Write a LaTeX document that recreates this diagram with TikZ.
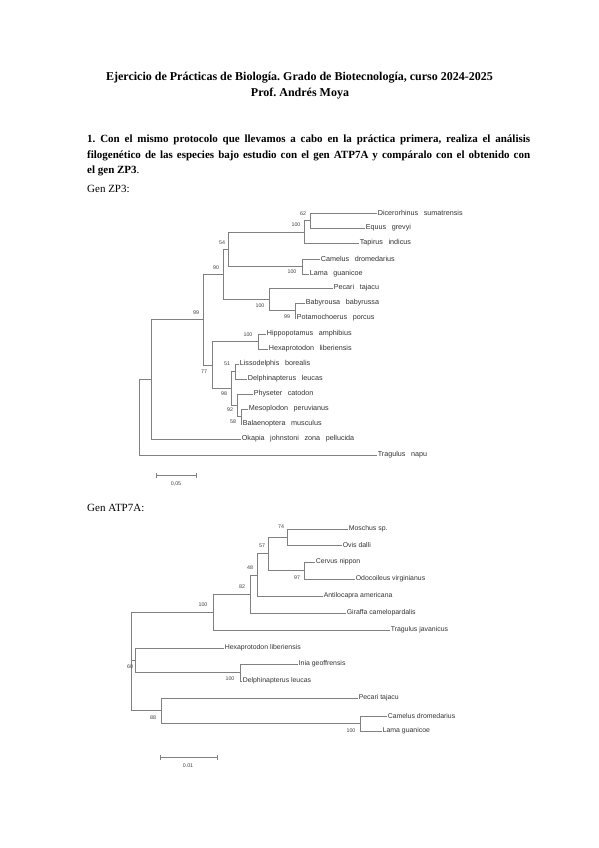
\documentclass[tikz,border=0pt]{standalone}
\usepackage{fontspec}
\setmainfont{Liberation Serif}
\newfontfamily\treefont{Liberation Sans}
\begin{document}
\frenchspacing
\begin{tikzpicture}[x=1pt,y=-1pt,
  br/.style={draw=black!50, line width=0.6pt},
  leafw/.style={anchor=west, inner sep=0.6pt, font={\treefont\fontsize{7.2}{8}\selectfont\spaceskip=5.6pt\relax}, text=black!80},
  leaf/.style={anchor=west, inner sep=0.6pt, font=\treefont\fontsize{6.9}{8}\selectfont, text=black!80},
  bs/.style={inner sep=0pt, font=\treefont\fontsize{5.3}{6}\selectfont, text=black!75},
  body/.style={anchor=west, inner sep=0pt, font=\fontsize{11}{13}\selectfont}]
\fill[white] (0,0) rectangle (599,848);
\useasboundingbox (0,0) rectangle (599,848);

% ---------- header ----------
\node[inner sep=0pt, font=\fontsize{12}{14}\selectfont\bfseries] (t1) at (299.5,78) {Ejercicio de Prácticas de Biología. Grado de Biotecnología, curso 2024-2025};
\node[inner sep=0pt, font=\fontsize{12}{14}\selectfont\bfseries] (t2) at (300,94) {Prof. Andrés Moya};
\node[body] (p1) at (87,140) {\makebox[443pt][s]{\bfseries 1. Con el mismo protocolo que llevamos a cabo en la práctica primera, realiza el análisis}};
\node[body] (p2) at (87,156) {\makebox[443pt][s]{\bfseries filogenético de las especies bajo estudio con el gen ATP7A y compáralo con el obtenido con}};
\node[body] (p3) at (87,171) {\bfseries el gen ZP3\mdseries.};
\node[body] (g1) at (87,189) {Gen ZP3:};
\node[body] (g2) at (87,508) {Gen ATP7A:};

% ---------- ZP3 tree ----------
\node[leafw] (z1) at (377,213) {Dicerorhinus sumatrensis};
\node[leafw] (z2) at (365,228) {Equus grevyi};
\node[leafw] (z3) at (359,243) {Tapirus indicus};
\node[leafw] (z4) at (320,259) {Camelus dromedarius};
\node[leafw] (z5) at (309,274) {Lama guanicoe};
\node[leafw] (z6) at (333,288) {Pecari tajacu};
\node[leafw] (z7) at (305,303) {Babyrousa babyrussa};
\node[leafw] (z8) at (296,318) {Potamochoerus porcus};
\node[leafw] (z9) at (266,334) {Hippopotamus amphibius};
\node[leafw] (z10) at (268,349) {Hexaprotodon liberiensis};
\node[leafw] (z11) at (239,364) {Lissodelphis borealis};
\node[leafw] (z12) at (247,379) {Delphinapterus leucas};
\node[leafw] (z13) at (253,394) {Physeter catodon};
\node[leafw] (z14) at (248,409) {Mesoplodon peruvianus};
\node[leafw] (z15) at (242,424) {Balaenoptera musculus};
\node[leafw] (z16) at (241,439) {Okapia johnstoni zona pellucida};
\node[leafw] (z17) at (377,455) {Tragulus napu};

\coordinate (zr) at (139,417);
\coordinate (zI) at (151,379);
\coordinate (z99) at (203,319.5);
\coordinate (z90) at (223,274);
\coordinate (z54) at (228,249);
\coordinate (z100a) at (304,232);
\coordinate (z62) at (310,220.5);
\coordinate (zcam) at (302,266.5);
\coordinate (zsuid) at (269,299);
\coordinate (zbp) at (295,310.5);
\coordinate (z77) at (212,365);
\coordinate (zhip) at (258,341.5);
\coordinate (z98) at (231,388);
\coordinate (z51) at (235,371.5);
\coordinate (z92) at (237,405);
\coordinate (z58) at (241,416.5);

\draw[br] (zr) |- (zI) (zr) |- (z17.west);
\draw[br] (zI) |- (z99) (zI) |- (z16.west);
\draw[br] (z99) |- (z90) (z99) |- (z77);
\draw[br] (z90) |- (z54) (z90) |- (zsuid);
\draw[br] (z54) |- (z100a) (z54) |- (zcam);
\draw[br] (z100a) |- (z62) (z100a) |- (z3.west);
\draw[br] (z62) |- (z1.west) (z62) |- (z2.west);
\draw[br] (zcam) |- (z4.west) (zcam) |- (z5.west);
\draw[br] (zsuid) |- (z6.west) (zsuid) |- (zbp);
\draw[br] (zbp) |- (z7.west) (zbp) |- (z8.west);
\draw[br] (z77) |- (zhip) (z77) |- (z98);
\draw[br] (zhip) |- (z9.west) (zhip) |- (z10.west);
\draw[br] (z98) |- (z51) (z98) |- (z92);
\draw[br] (z51) |- (z11.west) (z51) |- (z12.west);
\draw[br] (z92) |- (z13.west) (z92) |- (z58);
\draw[br] (z58) |- (z14.west) (z58) |- (z15.west);

\node[bs] (zb1) at (303,214) {62};
\node[bs] (zb2) at (296,225) {100};
\node[bs] (zb3) at (222,243) {54};
\node[bs] (zb4) at (292,272) {100};
\node[bs] (zb5) at (216,268) {90};
\node[bs] (zb6) at (260,306) {100};
\node[bs] (zb7) at (287,317) {99};
\node[bs] (zb8) at (196,313) {99};
\node[bs] (zb9) at (248,335) {100};
\node[bs] (zb10) at (204,372) {77};
\node[bs] (zb11) at (227,364) {51};
\node[bs] (zb12) at (224,394) {98};
\node[bs] (zb13) at (230,410) {92};
\node[bs] (zb14) at (233,422) {58};

\coordinate (sa1) at (156,475);
\coordinate (sa2) at (196,475);
\draw[br] (sa1) -- (sa2);
\draw[br] ([yshift=-2.5pt]sa1) -- ([yshift=2.5pt]sa1);
\draw[br] ([yshift=-2.5pt]sa2) -- ([yshift=2.5pt]sa2);
\node[bs] (sal) at (176,484) {0,05};

% ---------- ATP7A tree ----------
\node[leaf] (a1) at (348,529) {Moschus sp.};
\node[leaf] (a2) at (342,545) {Ovis dalli};
\node[leaf] (a3) at (315,562) {Cervus nippon};
\node[leaf] (a4) at (355,579) {Odocoileus virginianus};
\node[leaf] (a5) at (323,596) {Antilocapra americana};
\node[leaf] (a6) at (346,613) {Giraffa camelopardalis};
\node[leaf] (a7) at (390,630) {Tragulus javanicus};
\node[leaf] (a8) at (224,648) {Hexaprotodon liberiensis};
\node[leaf] (a9) at (298,664) {Inia geoffrensis};
\node[leaf] (a10) at (242,681) {Delphinapterus leucas};
\node[leaf] (a11) at (358,698) {Pecari tajacu};
\node[leaf] (a12) at (387,716) {Camelus dromedarius};
\node[leaf] (a13) at (382,731) {Lama guanicoe};

\coordinate (ar) at (131,661.5);
\coordinate (a100) at (213,612);
\coordinate (a82) at (250,594);
\coordinate (a48) at (257,575);
\coordinate (a57) at (268,553);
\coordinate (a74) at (287,537);
\coordinate (a97) at (304,570.5);
\coordinate (aA) at (135,660.5);
\coordinate (aid) at (240,672.5);
\coordinate (a88) at (161,710.5);
\coordinate (acl) at (360,723.5);

\draw[br] (ar) |- (a100) (ar) |- (aA) (ar) |- (a88);
\draw[br] (a100) |- (a82) (a100) |- (a7.west);
\draw[br] (a82) |- (a48) (a82) |- (a6.west);
\draw[br] (a48) |- (a57) (a48) |- (a5.west);
\draw[br] (a57) |- (a74) (a57) |- (a97);
\draw[br] (a74) |- (a1.west) (a74) |- (a2.west);
\draw[br] (a97) |- (a3.west) (a97) |- (a4.west);
\draw[br] (aA) |- (a8.west) (aA) |- (aid);
\draw[br] (aid) |- (a9.west) (aid) |- (a10.west);
\draw[br] (a88) |- (a11.west) (a88) |- (acl);
\draw[br] (acl) |- (a12.west) (acl) |- (a13.west);

\node[bs] (ab1) at (281,527) {74};
\node[bs] (ab2) at (262,546) {57};
\node[bs] (ab3) at (297,578) {97};
\node[bs] (ab4) at (250,568) {48};
\node[bs] (ab5) at (242,587) {82};
\node[bs] (ab6) at (203,605) {100};
\node[bs] (ab7) at (130,667) {60};
\node[bs] (ab8) at (230,679) {100};
\node[bs] (ab9) at (153,718) {88};
\node[bs] (ab10) at (351,731) {100};

\coordinate (sb1) at (160,757);
\coordinate (sb2) at (217,757);
\draw[br] (sb1) -- (sb2);
\draw[br] ([yshift=-2.5pt]sb1) -- ([yshift=2.5pt]sb1);
\draw[br] ([yshift=-2.5pt]sb2) -- ([yshift=2.5pt]sb2);
\node[bs] (sbl) at (188,766) {0.01};
\end{tikzpicture}
\end{document}
